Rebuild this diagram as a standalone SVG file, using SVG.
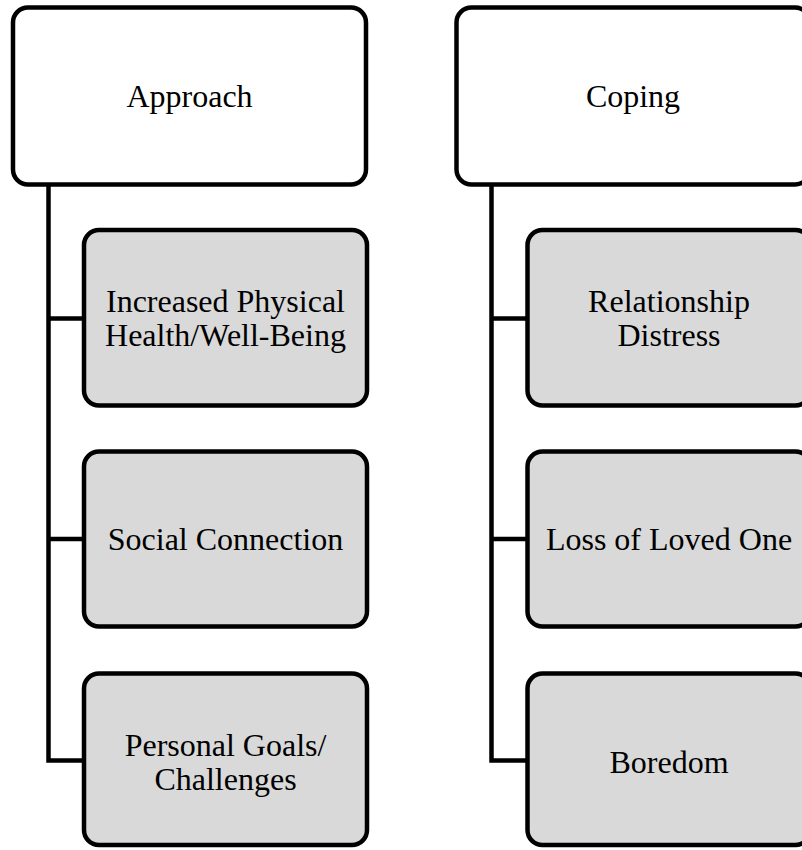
<svg xmlns="http://www.w3.org/2000/svg" width="802" height="850" viewBox="0 0 802 850">
<style>
.top{fill:#ffffff;stroke:#000;stroke-width:4.5}
.child{fill:#d9d9d9;stroke:#000;stroke-width:4.5}
.conn{fill:none;stroke:#000;stroke-width:4.5;stroke-linejoin:miter}
text{font-family:"Liberation Serif","Times New Roman",serif;font-size:32px;fill:#000;text-anchor:middle}
</style>
<rect width="802" height="850" fill="#ffffff"/>
<g id="connectors">
<path class="conn" d="M48.5,184.5 V760.5 H84 M48.5,318.5 H84 M48.5,539 H84"/>
<path class="conn" d="M491.5,184.5 V760.5 H527.5 M491.5,318.5 H527.5 M491.5,539 H527.5"/>
</g>
<g id="approach">
<rect class="top" x="13" y="7.5" width="353" height="177" rx="15"/>
<text x="189.5" y="107">Approach</text>
</g>
<g id="physical">
<rect class="child" x="84" y="230" width="283" height="175.5" rx="15"/>
<text x="225.5" y="311.5">Increased Physical</text>
<text x="225.5" y="345.5">Health/Well-Being</text>
</g>
<g id="social">
<rect class="child" x="84" y="451.5" width="283" height="175" rx="15"/>
<text x="225.5" y="550">Social Connection</text>
</g>
<g id="goals">
<rect class="child" x="84" y="673.5" width="283" height="171.5" rx="15"/>
<text x="225.5" y="756">Personal Goals/</text>
<text x="225.5" y="790">Challenges</text>
</g>
<g id="coping">
<rect class="top" x="456.5" y="7.5" width="353.5" height="177" rx="15"/>
<text x="633" y="107">Coping</text>
</g>
<g id="relationship">
<rect class="child" x="527.5" y="230" width="283" height="175.5" rx="15"/>
<text x="669" y="311.5">Relationship</text>
<text x="669" y="345.5">Distress</text>
</g>
<g id="loss">
<rect class="child" x="527.5" y="451.5" width="283" height="175" rx="15"/>
<text x="669" y="550">Loss of Loved One</text>
</g>
<g id="boredom">
<rect class="child" x="527.5" y="673.5" width="283" height="171.5" rx="15"/>
<text x="669" y="773">Boredom</text>
</g>
</svg>
